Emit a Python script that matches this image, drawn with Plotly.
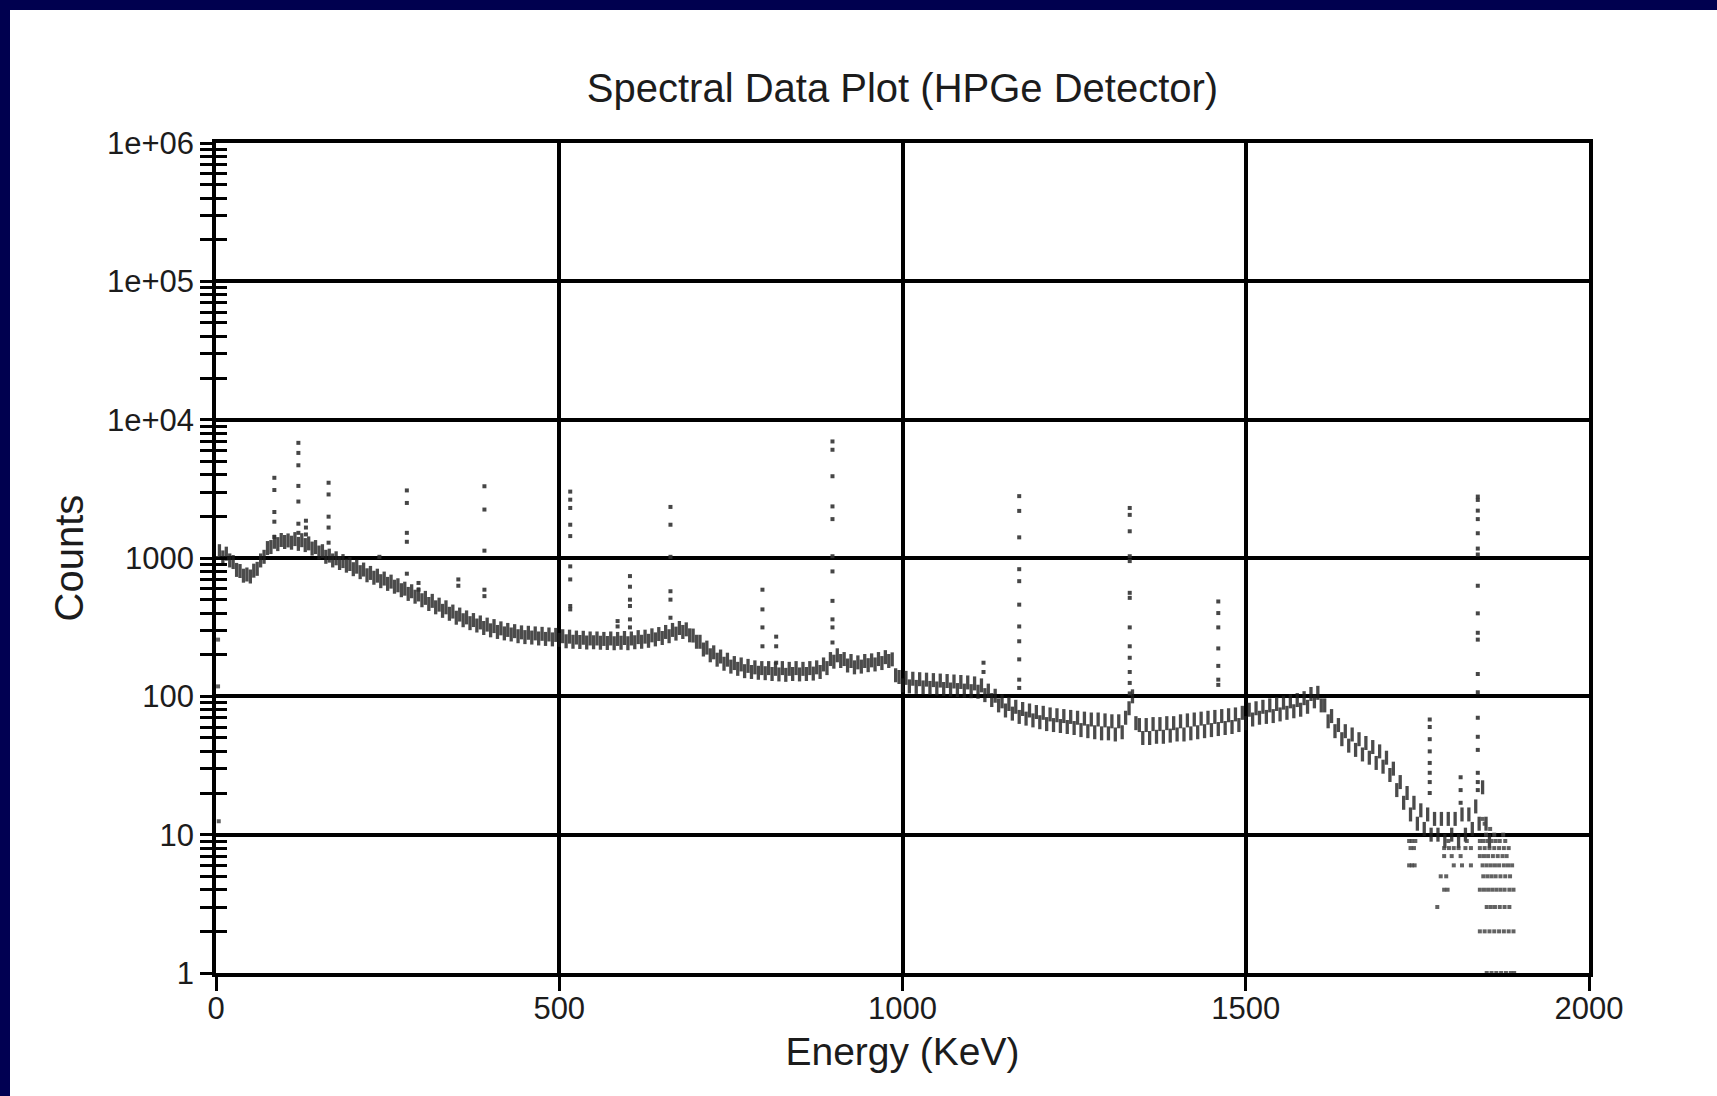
import plotly.graph_objects as go

# ---------------- data ----------------
# continuum counts, one reading every 5 keV starting at 5 keV
E_START = 5
E_STEP = 5
cont_counts = [
    1120, 1010, 1075, 960, 935, 820, 805, 745, 760, 735,        # 5-50
    810, 835, 960, 1020, 1180, 1200, 1310, 1260, 1350, 1305,    # 55-100
    1340, 1290, 1370, 1265, 1345, 1240, 1275, 1170, 1200, 1095, # 105-150
    1120, 1020, 1040, 960, 995, 920, 950, 880, 905, 830,        # 155-200
    865, 790, 825, 750, 780, 720, 745, 680, 710, 650,           # 205-250
    675, 620, 635, 585, 600, 550, 575, 525, 545, 495,           # 255-300
    515, 465, 490, 440, 460, 415, 440, 395, 410, 370,           # 305-350
    390, 355, 372, 338, 356, 325, 342, 312, 330, 300,           # 355-400
    322, 292, 310, 285, 302, 280, 296, 272, 290, 268,           # 405-450
    288, 266, 285, 262, 283, 260, 280, 258, 278, 256,           # 455-500
    272, 250, 270, 248, 266, 247, 265, 245, 262, 246,           # 505-550
    262, 244, 260, 243, 262, 242, 260, 244, 264, 242,           # 555-600
    262, 246, 268, 248, 270, 252, 276, 258, 282, 264,           # 605-650
    292, 272, 302, 284, 312, 292, 305, 276, 275, 248,           # 655-700
    248, 218, 225, 198, 208, 184, 194, 172, 184, 164,           # 705-750
    174, 158, 170, 152, 166, 150, 162, 148, 160, 147,           # 755-800
    160, 145, 158, 144, 160, 143, 158, 145, 160, 144,           # 805-850
    158, 145, 160, 146, 162, 150, 170, 160, 186, 178,           # 855-900
    198, 180, 186, 167, 180, 162, 176, 164, 180, 168,           # 905-950
    182, 170, 186, 174, 192, 180, 185, 142, 138, 120,           # 955-1000
    136, 118, 134, 117, 133, 116, 132, 115, 131, 114,           # 1005-1050
    130, 113, 129, 112, 128, 111, 127, 110, 126, 109,           # 1055-1100
    124, 108, 120, 102, 110, 94, 101, 86, 92, 79,               # 1105-1150
    88, 75, 84, 71, 81, 69, 79, 67, 77, 65,                     # 1155-1200
    76, 63, 74, 62, 73, 61, 72, 60, 71, 59,                     # 1205-1250
    70, 57, 69, 56, 68, 55, 68, 54, 67, 54,                     # 1255-1300
    66, 53, 66, 55, 70, 82, 100, 64, 62, 50,                    # 1305-1350
    62, 50, 63, 51, 63, 51, 64, 52, 64, 53,                     # 1355-1400
    66, 53, 67, 54, 68, 55, 69, 56, 70, 57,                     # 1405-1450
    71, 58, 72, 59, 73, 60, 74, 62, 76, 64,                     # 1455-1500
    80, 68, 82, 70, 84, 71, 86, 72, 88, 74,                     # 1505-1550
    90, 76, 92, 78, 94, 80, 97, 84, 104, 92,                    # 1555-1600
    106, 86, 86, 66, 72, 56, 62, 49, 56, 44,                    # 1605-1650
    53, 41, 49, 38, 46, 36, 43, 33, 40, 31,                     # 1655-1700
    36, 27, 30, 21, 24, 17, 20, 14, 17, 12,                     # 1705-1750
    15, 11, 14, 10, 13, 10, 13, 9, 13, 10,                      # 1755-1800
    13, 9, 14, 10, 14, 11, 16, 12, 22, 12,                      # 1805-1850
    9,                                                          # 1855
]
cont_energy = [E_START + E_STEP * i for i in range(len(cont_counts))]

# full-energy peaks: centre energy and the counts of the channels forming the column
peak_energy = [85, 120, 131, 164, 238, 278, 295, 353, 391, 516, 585, 603,
               662, 796, 816, 898, 1118, 1170, 1331, 1460, 1768, 1813, 1838]
peak_counts = [
    [3800, 3100, 2150, 1830, 1420],
    [6800, 5750, 4680, 3320, 2560, 1770, 1520],
    [1860, 1660, 1480],
    [3500, 2880, 1990, 1660, 1290],
    [1020],
    [3080, 2500, 1520, 1310, 770],
    [660, 590],
    [700, 630],
    [3300, 2240, 1130, 590, 530],
    [3020, 2640, 2300, 1740, 1440, 870, 700, 450, 425],
    [350, 320],
    [740, 620, 500, 450, 360, 315],
    [2340, 1740, 1020, 575, 500, 370],
    [590, 425, 315, 230],
    [270, 230, 175],
    [6960, 6060, 3900, 2360, 1910, 1030, 800, 490, 360, 315, 245],
    [175, 150],
    [2800, 2190, 1410, 830, 680, 460, 320, 250, 185, 132, 115],
    [2300, 2050, 1560, 1030, 950, 560, 515, 315, 230, 190, 150, 125, 105],
    [485, 400, 315, 222, 166, 132, 121],
    [68, 60, 49, 40, 33, 28, 24, 20],
    [26, 21, 17],
    [2780, 2630, 2200, 1910, 1510, 1170, 1060, 630, 398, 288, 257, 145, 107,
     70, 51, 41, 28, 24, 21],
]

# low-count channels in the high-energy tail (integer counts)
tail_energy = [1738, 1742, 1747, 1740, 1745, 1738, 1742, 1746,
               1789, 1796, 1803, 1810, 1820, 1828, 1789, 1800, 1813,
               1803, 1815, 1828, 1784, 1792, 1789, 1794, 1779, 1795, 1822,
               1841, 1846, 1852, 1858, 1864, 1870, 1878,
               1841, 1848, 1855, 1862, 1869, 1876, 1883,
               1841, 1847, 1853, 1860, 1867, 1874, 1880,
               1845, 1851, 1857, 1863, 1869, 1876, 1882, 1888,
               1846, 1852, 1858, 1864, 1871, 1878, 1885,
               1841, 1847, 1853, 1859, 1865, 1871, 1877, 1884, 1890,
               1851, 1857, 1863, 1870, 1877, 1884,
               1841, 1848, 1855, 1862, 1869, 1876, 1883, 1890,
               1851, 1858, 1865, 1872, 1879, 1886, 1891,
               1845, 1848, 1856, 1850, 1862, 1875]
tail_counts = [9, 9, 9, 8, 8, 6, 6, 6,
               8, 8, 8, 8, 8, 8, 7, 7, 7,
               6, 6, 6, 5, 5, 4, 4, 3, 9, 9,
               9, 9, 9, 9, 9, 9, 9,
               8, 8, 8, 8, 8, 8, 8,
               7, 7, 7, 7, 7, 7, 7,
               6, 6, 6, 6, 6, 6, 6, 6,
               5, 5, 5, 5, 5, 5, 5,
               4, 4, 4, 4, 4, 4, 4, 4, 4,
               3, 3, 3, 3, 3, 3,
               2, 2, 2, 2, 2, 2, 2, 2,
               1, 1, 1, 1, 1, 1, 1,
               13, 12, 11, 10, 10, 10]

# first channels (low-energy cut-off)
low_energy = [2, 3, 3, 4]
low_counts = [1000, 257, 118, 12.5]

x_ticks = [0, 500, 1000, 1500, 2000]
decade_vals = [1, 10, 100, 1000, 1e4, 1e5, 1e6]
decade_labels = ["1", "10", "100", "1000", "1e+04", "1e+05", "1e+06"]

# ---------------- figure ----------------
minor_vals = [m * d for d in decade_vals[:-1] for m in range(1, 10)] + [decade_vals[-1]]
minor_text = [decade_labels[decade_vals.index(v)] if v in decade_vals else "" for v in minor_vals]

pk_x, pk_y = [], []
for e, cs in zip(peak_energy, peak_counts):
    pk_x += [e] * len(cs)
    pk_y += cs

FONT = "Liberation Sans, Arial, Helvetica, sans-serif"
TXT = "#1c1c1c"

fig = go.Figure()
fig.add_trace(go.Scatter(
    x=cont_energy, y=cont_counts, mode="markers",
    marker=dict(symbol="line-ns", size=10,
                line=dict(width=3.3, color="rgba(30,30,30,0.8)")),
    showlegend=False, hoverinfo="x+y"))
fig.add_trace(go.Scatter(
    x=pk_x, y=pk_y, mode="markers",
    marker=dict(symbol="square", size=4, color="rgba(50,50,50,0.9)", line=dict(width=0)),
    showlegend=False))
fig.add_trace(go.Scatter(
    x=tail_energy + low_energy, y=tail_counts + low_counts, mode="markers",
    marker=dict(symbol="square", size=4, color="rgba(70,70,70,0.85)", line=dict(width=0)),
    showlegend=False))
# empty traces so the overlay axes are drawn
fig.add_trace(go.Scatter(x=[], y=[], yaxis="y2", showlegend=False))
fig.add_trace(go.Scatter(x=[], y=[], yaxis="y3", showlegend=False))

axis_line = dict(showline=True, linewidth=3.5, linecolor="black", mirror=True, zeroline=False)

fig.update_layout(
    width=1717, height=1096,
    margin=dict(l=216, r=128, t=143, b=123, autoexpand=False),
    paper_bgcolor="white", plot_bgcolor="white",
    font=dict(family=FONT, color=TXT),
    title=dict(text="Spectral Data Plot (HPGe Detector)", x=0.5, xref="paper",
               y=1 - 88 / 1096, yref="container", xanchor="center", yanchor="middle",
               font=dict(size=40, family=FONT, color=TXT)),
    xaxis=dict(range=[0, 2000], tickvals=x_ticks, ticks="outside", ticklen=14,
               tickwidth=3, tickcolor="black", showgrid=True, gridcolor="black",
               gridwidth=3.5, tickfont=dict(size=31, family=FONT, color=TXT),
               ticklabelstandoff=-9,
               title=dict(text="Energy (KeV)", font=dict(size=39, family=FONT, color=TXT),
                          standoff=14),
               **axis_line),
    yaxis=dict(type="log", range=[0, 6], tickvals=minor_vals, ticktext=minor_text,
               ticks="outside", ticklen=12, tickwidth=3, tickcolor="black",
               showgrid=False, tickfont=dict(size=31, family=FONT, color=TXT),
               title=dict(text="Counts", font=dict(size=40, family=FONT, color=TXT),
                          standoff=12),
               **axis_line),
    yaxis2=dict(type="log", range=[0, 6], overlaying="y", tickvals=decade_vals,
                ticks="", showticklabels=False, showgrid=True, gridcolor="black",
                gridwidth=3.5, showline=False, zeroline=False),
    yaxis3=dict(type="log", range=[0, 6], overlaying="y", tickvals=minor_vals,
                ticks="inside", ticklen=11, tickwidth=3, tickcolor="black",
                showticklabels=False, showgrid=False, showline=False, zeroline=False),
)

# navy frame strips along the top and left edges of the page
PW, PH = 1717 - 216 - 128, 1096 - 143 - 123
def px_x(p):
    return (p - 216) / PW
def px_y(p):
    return (973 - p) / PH
NAVY = "#00004f"
NAVY_B = "#010052"
fig.add_shape(type="rect", xref="paper", yref="paper", x0=px_x(0), x1=px_x(1717),
              y0=px_y(10), y1=px_y(0), fillcolor=NAVY, line=dict(width=0), layer="above")
fig.add_shape(type="rect", xref="paper", yref="paper", x0=px_x(0), x1=px_x(10),
              y0=px_y(500), y1=px_y(0), fillcolor=NAVY, line=dict(width=0), layer="above")
fig.add_annotation(text=" ", xref="paper", yref="paper", x=px_x(0), y=px_y(500),
                   xanchor="left", yanchor="top", showarrow=False, width=10, height=596,
                   bgcolor=NAVY_B, borderpad=0, borderwidth=0)

fig.write_html("out.html")
